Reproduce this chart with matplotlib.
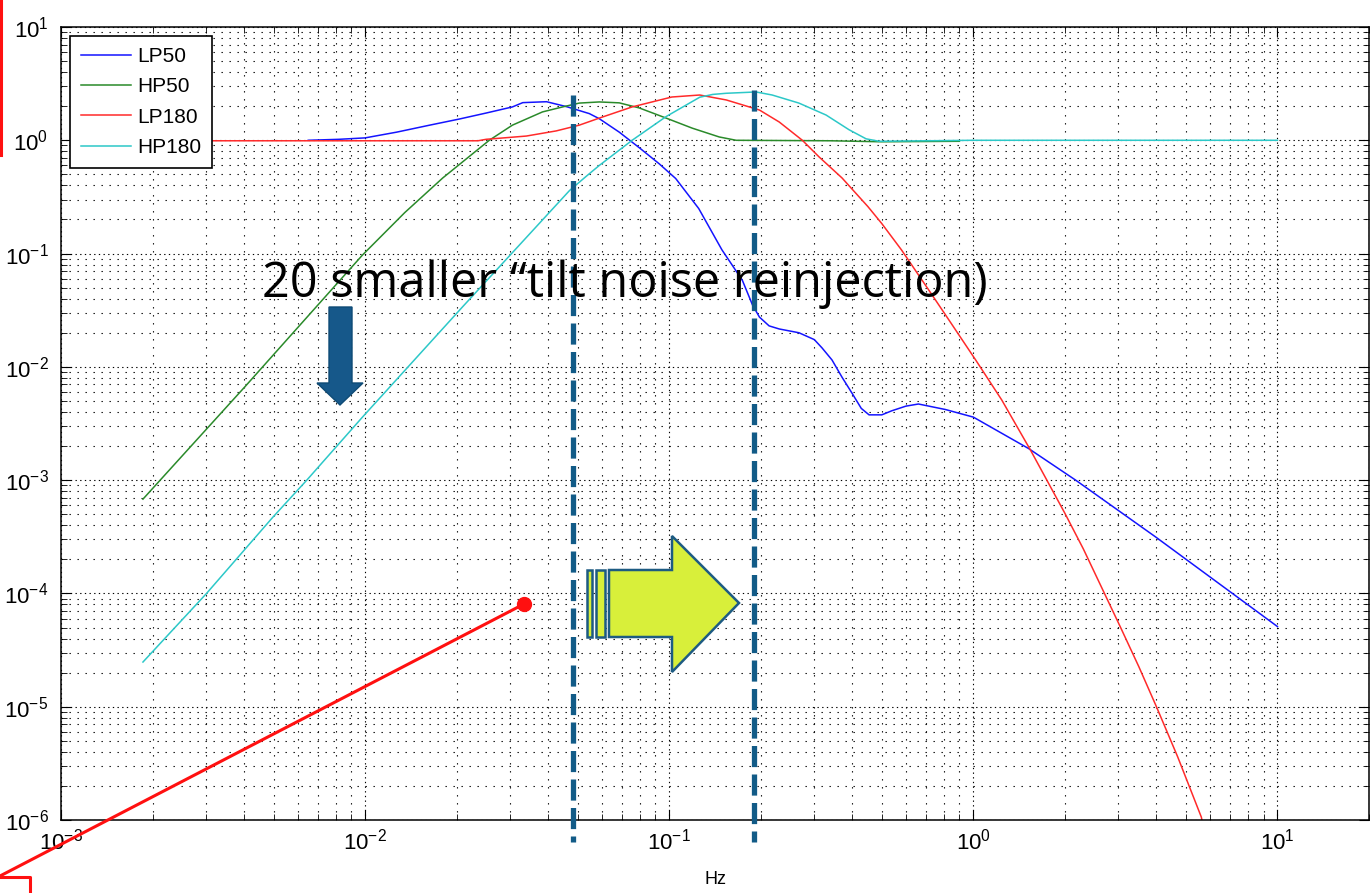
import matplotlib
matplotlib.use("Agg")
import matplotlib.pyplot as plt
from matplotlib.patches import Polygon, Rectangle
from matplotlib.lines import Line2D

plt.rcParams['font.family'] = ['Liberation Sans', 'DejaVu Sans']
plt.rcParams['mathtext.default'] = 'regular'

W, H = 1370, 893

# LP50 (blue)
lp50_f = [0.0065, 0.0082, 0.010, 0.0127, 0.0163, 0.0204, 0.025, 0.0305, 0.033, 0.0395,
          0.046, 0.0546, 0.0589, 0.0685, 0.0797, 0.0927, 0.105, 0.125, 0.149, 0.174,
          0.188, 0.198, 0.213, 0.23, 0.267, 0.30, 0.318, 0.343, 0.37, 0.40, 0.428, 0.454,
          0.50, 0.54, 0.60, 0.66, 0.81, 1.0, 1.52, 2.17, 3.97, 10.0]
lp50_m = [1.0, 1.02, 1.05, 1.18, 1.36, 1.54, 1.74, 1.97, 2.15, 2.19,
          1.98, 1.72, 1.55, 1.18, 0.86, 0.62, 0.46, 0.25, 0.108, 0.058,
          0.035, 0.0275, 0.023, 0.0216, 0.020, 0.0174, 0.0147, 0.0115, 0.0081, 0.0058, 0.0043, 0.00377,
          0.00377, 0.0041, 0.0045, 0.0047, 0.0042, 0.0036, 0.0019, 0.0010, 0.000316, 5.1e-5]

# HP50 (green)
hp50_f = [0.00186, 0.00402, 0.0098, 0.0135, 0.018, 0.0256, 0.0305, 0.0383, 0.0446, 0.0506,
          0.0589, 0.0685, 0.0797, 0.0977, 0.119, 0.146, 0.166, 0.34, 0.5, 0.9]
hp50_m = [6.8e-4, 0.00665, 0.097, 0.23, 0.465, 1.0, 1.36, 1.78, 1.97, 2.13,
          2.18, 2.14, 1.93, 1.57, 1.28, 1.07, 1.0, 0.99, 0.97, 0.98]

# LP180 (red)
lp180_f = [0.002, 0.0235, 0.025, 0.0339, 0.0425, 0.0506, 0.0589, 0.0755, 0.102, 0.126,
           0.154, 0.198, 0.23, 0.274, 0.311, 0.37, 0.45, 0.50, 0.58, 0.724,
           0.85, 1.02, 1.24, 1.54, 2.0, 2.3, 2.68, 3.05, 3.5, 4.0,
           4.7, 5.62, 5.8]
lp180_m = [0.99, 0.99, 1.02, 1.09, 1.21, 1.36, 1.57, 1.97, 2.41, 2.51,
           2.27, 1.85, 1.45, 1.0, 0.713, 0.465, 0.26, 0.184, 0.108, 0.045,
           0.0237, 0.0114, 0.0051, 0.00185, 5.1e-4, 2.47e-4, 1.04e-4, 5.0e-5, 2.26e-5, 1.0e-5,
           3.6e-6, 1.06e-6, 7e-7]

# HP180 (cyan)
hp180_f = [0.00186, 0.00301, 0.00497, 0.00643, 0.0098, 0.0209, 0.047, 0.0533, 0.0589, 0.0635,
           0.0755, 0.0977, 0.126, 0.139, 0.154, 0.193, 0.218, 0.267, 0.328, 0.39,
           0.444, 0.49, 1.0, 10.0]
hp180_m = [2.48e-5, 1.0e-4, 4.7e-4, 1.0e-3, 0.0036, 0.0338, 0.36, 0.48, 0.60, 0.70,
           1.0, 1.62, 2.40, 2.54, 2.60, 2.67, 2.51, 2.13, 1.67, 1.24,
           1.03, 0.98, 1.0, 1.0]

series_names = ['LP50', 'HP50', 'LP180', 'HP180']
series_colors = ['#1414ff', '#2a8a2a', '#ff2a2a', '#2cc8c8']


def px(x, y):
    # pixel position on the slide -> figure fraction
    return (x / W, 1 - y / H)


fig = plt.figure(figsize=(W / 100, H / 100), dpi=100)
ax = fig.add_axes([61 / W, 1 - 820 / H, (1369 - 61) / W, (820 - 27) / H])

data = [(lp50_f, lp50_m), (hp50_f, hp50_m), (lp180_f, lp180_m), (hp180_f, hp180_m)]
for (f, m), name, c in zip(data, series_names, series_colors):
    ax.loglog(f, m, color=c, lw=1.1, label=name)

ax.set_xlim(1e-3, 20)
ax.set_ylim(1e-6, 1e1)
ax.grid(True, which='major', color='k', linestyle=(0, (1.2, 3)), lw=0.8)
ax.grid(True, which='minor', color='k', linestyle=(0, (1.2, 6)), lw=0.8)
ax.tick_params(which='both', direction='in', top=True, right=True, labelsize=16)
ax.tick_params(which='major', length=7)
ax.tick_params(which='minor', length=4)
ax.tick_params(axis='y', pad=9)
ax.tick_params(axis='x', pad=6)
for s in ax.spines.values():
    s.set_linewidth(1.1)
ax.set_xlabel('Hz', fontsize=13, labelpad=12)

leg = ax.legend(loc='upper left', fontsize=15, fancybox=False, edgecolor='k',
                framealpha=1, handlelength=2.4, labelspacing=0.55, borderpad=0.5,
                borderaxespad=0.45, handletextpad=0.3)
leg.get_frame().set_linewidth(1.2)

# slide annotations
for x0, ytop in [(573, 95), (754, 90)]:
    (xa, ya), (xb, yb) = px(x0, ytop), px(x0, 842)
    fig.add_artist(Line2D([xa, xb], [ya, yb], color='#125b87', lw=3.8,
                          linestyle=(0, (4, 1.4))))

down = [(329, 307), (352, 307), (352, 383), (363, 383), (340, 405), (317, 383), (329, 383)]
fig.add_artist(Polygon([px(*p) for p in down], closed=True, transform=fig.transFigure,
                       facecolor='#16588a', edgecolor='#0d4a75', lw=1))

for x0, x1 in [(587, 592), (596, 605)]:
    (a, b), (c, d) = px(x0, 637), px(x1, 570)
    fig.add_artist(Rectangle((a, b), c - a, d - b, transform=fig.transFigure,
                             facecolor='#d8ef3a', edgecolor='#1d5b82', lw=1.8))
right = [(609, 570), (672, 570), (672, 536), (739, 603), (672, 672), (672, 637), (609, 637)]
fig.add_artist(Polygon([px(*p) for p in right], closed=True, transform=fig.transFigure,
                       facecolor='#d8ef3a', edgecolor='#1d5b82', lw=1.8))

fig.text(*px(262, 297), '20 smaller \u201ctilt noise reinjection)', fontsize=35,
         family=['Open Sans', 'DejaVu Sans'], va='baseline', ha='left')

red = '#ff1010'
for pts in [[(0, 876), (524, 604)], [(0, 877), (30, 877), (30, 893)], [(1, 0), (1, 155)]]:
    xs, ys = zip(*[px(*p) for p in pts])
    fig.add_artist(Line2D(xs, ys, color=red, lw=2.2))
dx, dy = px(524, 604)
fig.add_artist(Line2D([dx], [dy], marker='o', markersize=10, color=red, lw=0))

fig.savefig('out.png', dpi=100)
